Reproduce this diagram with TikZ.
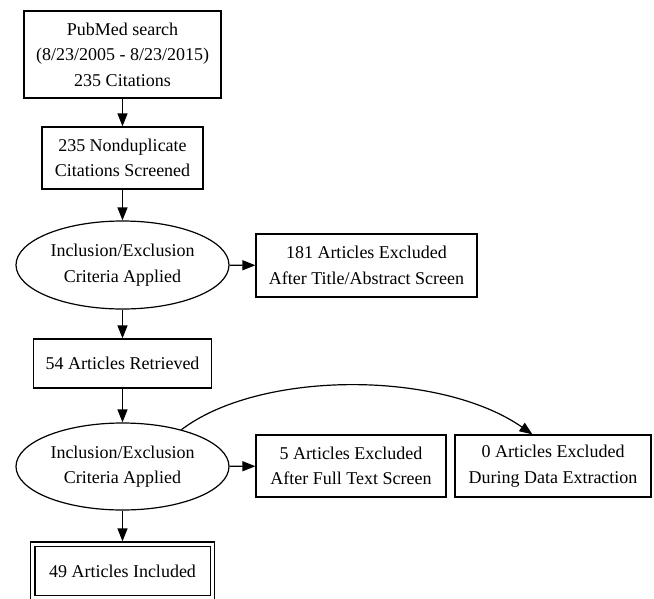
\documentclass[tikz,border=0pt]{standalone}
\usepackage{fontspec}
\setmainfont{Liberation Serif}
\usetikzlibrary{shapes.geometric,arrows.meta}
\tikzset{
  base/.style={draw, line width=1.2pt, inner sep=0pt, align=center,
    font=\fontsize{18}{25.5}\selectfont},
  boxnode/.style={base, rectangle},
  ellnode/.style={base, ellipse},
  conn/.style={line width=1.2pt, -{Triangle[length=13pt,width=10pt]}},
}
\begin{document}
\begin{tikzpicture}[x=1pt, y=-1pt]
\useasboundingbox (0,0) rectangle (654,598);
\node[boxnode, minimum width=197pt, minimum height=87pt] (pub) at (122.5,54.5)
  {PubMed search\\(8/23/2005 - 8/23/2015)\\235 Citations};
\node[boxnode, minimum width=161pt, minimum height=62pt] (nondup) at (122.5,158)
  {235 Nonduplicate\\Citations Screened};
\node[ellnode, minimum width=213pt, minimum height=88pt] (ell1) at (122.5,265)
  {Inclusion/Exclusion\\Criteria Applied};
\node[boxnode, minimum width=221pt, minimum height=63pt] (ex181) at (366.5,265.5)
  {181 Articles Excluded\\After Title/Abstract Screen};
\node[boxnode, minimum width=178pt, minimum height=49pt] (ret54) at (122.5,363.5)
  {54 Articles Retrieved};
\node[ellnode, minimum width=213pt, minimum height=87pt] (ell2) at (122.5,466.5)
  {Inclusion/Exclusion\\Criteria Applied};
\node[boxnode, minimum width=190pt, minimum height=62pt] (ex5) at (351,466)
  {5 Articles Excluded\\After Full Text Screen};
\node[boxnode, minimum width=196pt, minimum height=62pt] (ex0) at (553,466)
  {0 Articles Excluded\\During Data Extraction};
\node[boxnode, minimum width=184pt, minimum height=58pt] (inc49) at (122.5,571)
  {49 Articles Included};
\draw[line width=1.2pt] ([shift={(5,5)}]inc49.north west) rectangle ([shift={(-5,-5)}]inc49.south east);

\draw[conn] (pub) -- (nondup);
\draw[conn] (nondup) -- (ell1);
\draw[conn] (ell1) -- (ex181);
\draw[conn] (ell1) -- (ret54);
\draw[conn] (ret54) -- (ell2);
\draw[conn] (ell2) -- (ex5);
\draw[conn] (ell2) -- (inc49);
\draw[conn] (ell2.32) .. controls (260,370) and (440,370) .. (ex0.123);
\end{tikzpicture}
\end{document}
